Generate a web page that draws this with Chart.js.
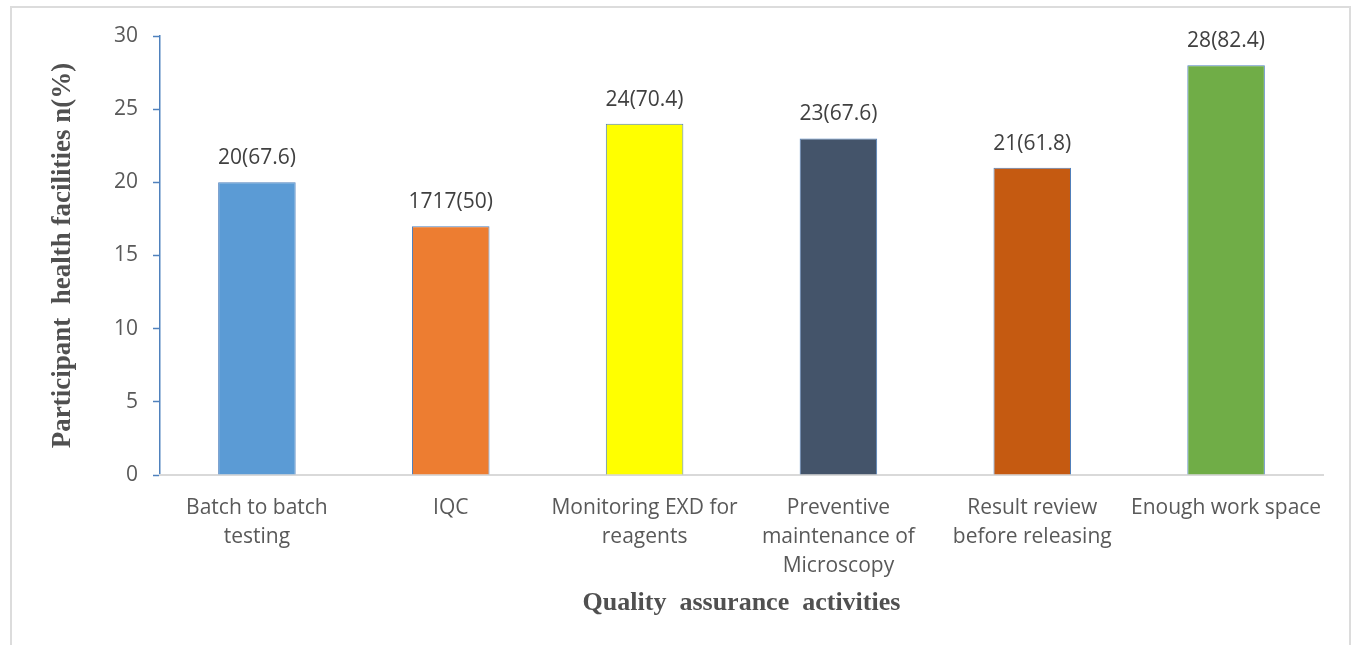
<!DOCTYPE html>
<html>
<head>
    <title>Quality assurance activities</title>
    <script src="https://cdn.jsdelivr.net/npm/chart.js@4/dist/chart.umd.min.js"></script>
    <style>
        body { margin: 0; background: #fff; }
        #frame { position: absolute; left: 10px; top: 6px; width: 1337px; height: 660px; border: 2px solid #dcdcdc; }
        #wrap { position: absolute; left: 0; top: 0; width: 1354px; height: 645px; }
    </style>
</head>
<body>
    <div id="frame"></div>
    <div id="wrap"><canvas id="barChart"></canvas></div>
    <script type="text/javascript">
    // chart data
    var categories = [
        ["Batch to batch", "testing"],
        "IQC",
        ["Monitoring EXD for", "reagents"],
        ["Preventive", "maintenance of", "Microscopy"],
        ["Result review", "before releasing"],
        "Enough work space"
    ];
    var counts = [20, 17, 24, 23, 21, 28];
    var valueLabels = ["20(67.6)", "1717(50)", "24(70.4)", "23(67.6)", "21(61.8)", "28(82.4)"];
    var barColors = ["#5B9BD5", "#ED7D31", "#FFFF00", "#44546A", "#C55A11", "#70AD47"];
    var yTicks = [0, 5, 10, 15, 20, 25, 30];

    // draws the text above each bar
    var barLabels = {
        id: 'barLabels',
        afterDatasetsDraw: function(chart) {
            var ctx = chart.ctx;
            var meta = chart.getDatasetMeta(0);
            ctx.save();
            ctx.font = '21px "Open Sans", sans-serif';
            ctx.fillStyle = '#404040';
            ctx.textAlign = 'center';
            ctx.textBaseline = 'middle';
            meta.data.forEach(function(bar, i) {
                ctx.fillText(valueLabels[i], bar.x, bar.y - 24);
            });
            ctx.restore();
        }
    };

    var ctx = document.getElementById("barChart");
    var myChart = new Chart(ctx, {
        type: 'bar',
        data: {
            labels: categories,
            datasets: [{
                data: counts,
                backgroundColor: barColors,
                borderColor: '#4F81BD',
                borderWidth: 1,
                barPercentage: 0.4,
                categoryPercentage: 1
            }]
        },
        options: {
            responsive: true,
            maintainAspectRatio: false,
            animation: false,
            layout: { padding: { left: 47, top: 36, right: 31, bottom: 20 } },
            plugins: {
                legend: { display: false },
                tooltip: { enabled: false }
            },
            scales: {
                y: {
                    min: 0,
                    max: 30,
                    afterBuildTicks: function(scale) {
                        scale.ticks = yTicks.map(function(v) { return { value: v }; });
                    },
                    afterFit: function(scale) { scale.width = 113; },
                    border: { color: '#4F81BD', width: 1.5 },
                    grid: { drawOnChartArea: false, tickLength: 7, color: '#4F81BD', tickWidth: 1.5 },
                    ticks: { padding: 15, color: '#595959', font: { family: '"Open Sans", sans-serif', size: 21 } },
                    title: {
                        display: true,
                        text: 'Participant  health facilities n(%)',
                        color: '#505050',
                        font: { family: '"Liberation Serif", "Times New Roman", serif', size: 27, weight: 'bold' },
                        padding: { top: 0, bottom: 0 }
                    }
                },
                x: {
                    afterFit: function(scale) { scale.height = 150; },
                    border: { color: '#d9d9d9', width: 2 },
                    grid: { display: false, drawTicks: false },
                    ticks: {
                        padding: 19,
                        maxRotation: 0,
                        autoSkip: false,
                        color: '#595959',
                        font: { family: '"Open Sans", sans-serif', size: 21, lineHeight: 1.38 }
                    },
                    title: {
                        display: true,
                        text: 'Quality  assurance  activities',
                        color: '#505050',
                        font: { family: '"Liberation Serif", "Times New Roman", serif', size: 26, weight: 'bold' },
                        padding: { top: 0, bottom: 6 }
                    }
                }
            }
        },
        plugins: [barLabels]
    });
    </script>
</body>
</html>
